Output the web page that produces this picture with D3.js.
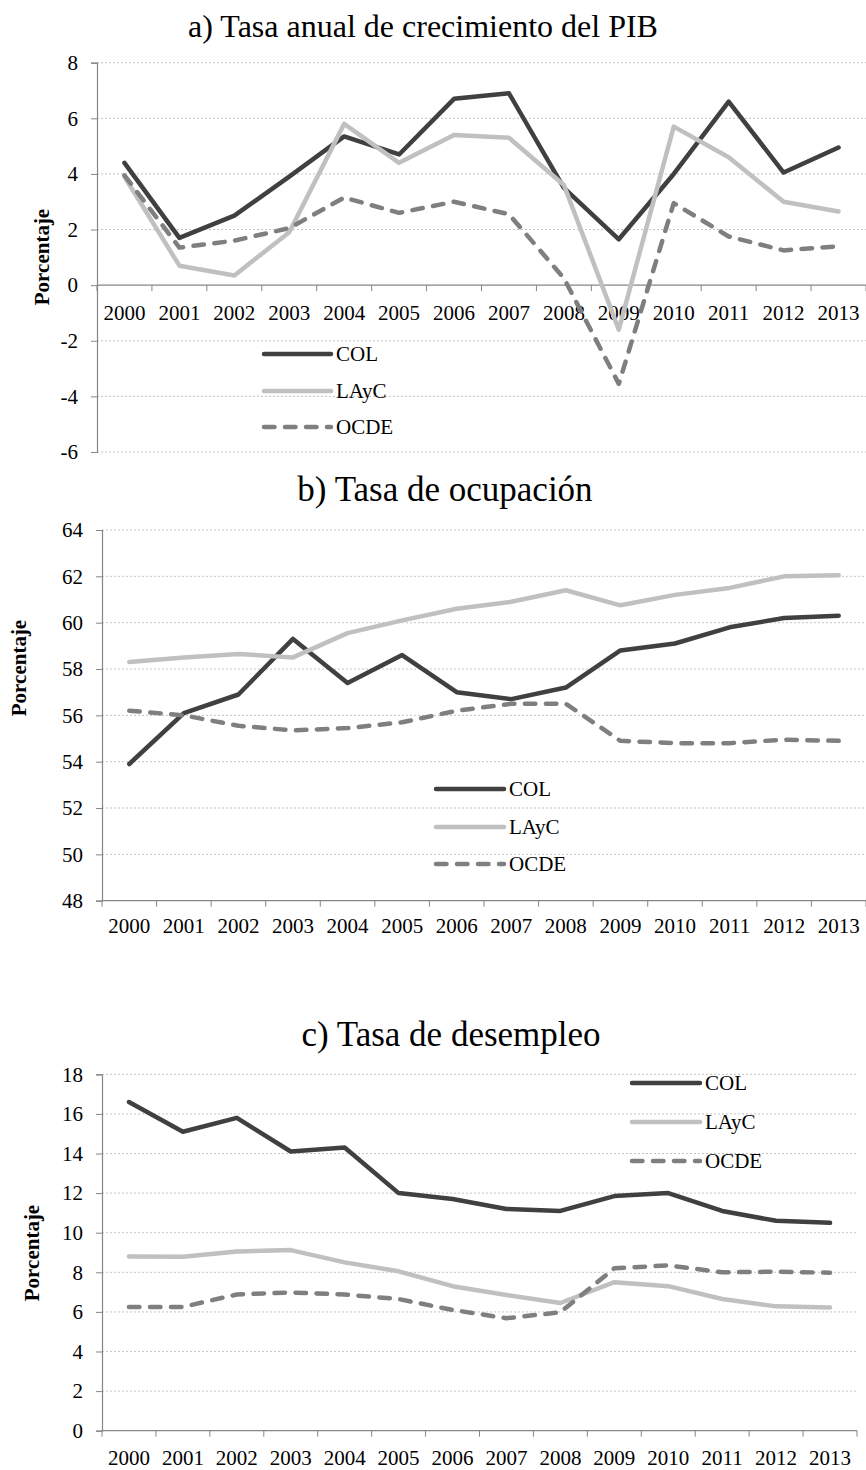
<!DOCTYPE html>
<html>
<head>
<meta charset="utf-8">
<script src="https://cdn.jsdelivr.net/npm/d3@7"></script>
<style>
  html, body { margin: 0; padding: 0; background: #fff; }
  svg { display: block; }
  text { font-family: "Liberation Serif", "Times New Roman", serif; fill: #000; }
</style>
</head>
<body>
<svg id="chart" width="866" height="1470"></svg>
<script>
// ---------- DATA ----------
const years = ["2000","2001","2002","2003","2004","2005","2006","2007","2008","2009","2010","2011","2012","2013"];
const seriesNames = ["COL", "LAyC", "OCDE"];

// a) Tasa anual de crecimiento del PIB
const pibCOL  = [4.4, 1.7, 2.5, 3.9, 5.35, 4.7, 6.7, 6.9, 3.5, 1.65, 4.0, 6.6, 4.05, 4.95];
const pibLAyC = [3.9, 0.7, 0.35, 1.9, 5.8, 4.4, 5.4, 5.3, 3.6, -1.6, 5.7, 4.6, 3.0, 2.65];
const pibOCDE = [3.95, 1.35, 1.6, 2.05, 3.15, 2.6, 3.0, 2.55, 0.25, -3.55, 2.95, 1.75, 1.25, 1.4];
const ticksA  = [-6, -4, -2, 0, 2, 4, 6, 8];

// b) Tasa de ocupación
const ocuCOL  = [53.9, 56.1, 56.9, 59.3, 57.4, 58.6, 57.0, 56.7, 57.2, 58.8, 59.1, 59.8, 60.2, 60.3];
const ocuLAyC = [58.3, 58.5, 58.65, 58.5, 59.55, 60.1, 60.6, 60.9, 61.4, 60.75, 61.2, 61.5, 62.0, 62.05];
const ocuOCDE = [56.2, 56.0, 55.55, 55.35, 55.45, 55.7, 56.2, 56.5, 56.5, 54.9, 54.8, 54.8, 54.95, 54.9];
const ticksB  = [48, 50, 52, 54, 56, 58, 60, 62, 64];

// c) Tasa de desempleo
const desCOL  = [16.6, 15.1, 15.8, 14.1, 14.3, 12.0, 11.7, 11.2, 11.1, 11.85, 12.0, 11.1, 10.6, 10.5];
const desLAyC = [8.8, 8.78, 9.05, 9.12, 8.5, 8.05, 7.3, 6.85, 6.45, 7.5, 7.3, 6.65, 6.28, 6.22];
const desOCDE = [6.25, 6.25, 6.88, 6.98, 6.88, 6.65, 6.1, 5.68, 5.98, 8.2, 8.35, 8.0, 8.03, 7.98];
const ticksC  = [0, 2, 4, 6, 8, 10, 12, 14, 16, 18];

const titles = ["a) Tasa anual de crecimiento del PIB", "b) Tasa de ocupación", "c) Tasa de desempleo"];
const yLabel = "Porcentaje";

// ---------- STYLES ----------
const colors = { COL: "#404040", LAyC: "#c0c0c0", OCDE: "#7f7f7f" };
const dashes = { COL: null, LAyC: null, OCDE: "10.5,10.5" };
const lineW = 4.5;
const axisColor = "#868686";
const gridColor = "#c4c4c4";

const svg = d3.select("#chart");

function drawPanel(cfg) {
  const g = svg.append("g");
  const x = d3.scaleBand().domain(years).range([cfg.left, cfg.right]).padding(0);
  const y = d3.scaleLinear().domain([d3.min(cfg.ticks), d3.max(cfg.ticks)]).range([cfg.bottom, cfg.top]);
  const cx = d => x(d) + x.bandwidth() / 2;

  // title
  g.append("text").attr("x", cfg.titleX).attr("y", cfg.titleY)
    .attr("text-anchor", "middle").style("font-size", cfg.titleSize + "px")
    .text(cfg.title);

  // gridlines
  g.selectAll(".grid").data(cfg.ticks.filter(t => t !== cfg.axisAt)).enter().append("line")
    .attr("x1", cfg.left).attr("x2", cfg.gridRight)
    .attr("y1", d => y(d)).attr("y2", d => y(d))
    .attr("stroke", gridColor).attr("stroke-width", 1).attr("stroke-dasharray", "2,2");

  // y axis
  const yAxis = d3.axisLeft(y).tickValues(cfg.ticks).tickSize(6).tickPadding(13).tickFormat(d => String(d));
  const ya = g.append("g").attr("transform", `translate(${cfg.left},0)`).call(yAxis);
  ya.select(".domain").attr("stroke", axisColor).attr("stroke-width", 1.2);
  ya.selectAll(".tick line").attr("stroke", axisColor).attr("stroke-width", 1);
  ya.selectAll(".tick text").style("font-size", "21px").style("font-family", "Liberation Serif").attr("fill", "#000");

  // x axis (at axisAt)
  const ax = y(cfg.axisAt);
  g.append("line").attr("x1", cfg.left).attr("x2", cfg.gridRight)
    .attr("y1", ax).attr("y2", ax).attr("stroke", axisColor).attr("stroke-width", 1.2);
  const edges = years.map(d => x(d)).concat([x(years[years.length - 1]) + x.bandwidth()]);
  g.selectAll(".xt").data(edges).enter().append("line")
    .attr("x1", d => d).attr("x2", d => d).attr("y1", ax).attr("y2", ax + 6)
    .attr("stroke", axisColor).attr("stroke-width", 1);
  g.selectAll(".xl").data(years).enter().append("text")
    .attr("x", d => cx(d)).attr("y", ax + cfg.labelOffset)
    .attr("text-anchor", "middle").style("font-size", "21px").text(d => d);

  // y label
  g.append("text").attr("transform", `translate(${cfg.ylabX},${cfg.ylabY}) rotate(-90)`)
    .attr("text-anchor", "middle").attr("dy", "0.35em")
    .style("font-size", "21px").style("font-weight", "bold").text(yLabel);

  // lines
  const line = d3.line().x((d, i) => cx(years[i])).y(d => y(d));
  cfg.series.forEach((vals, k) => {
    const name = seriesNames[k];
    g.append("path").datum(vals).attr("d", line)
      .attr("fill", "none").attr("stroke", colors[name]).attr("stroke-width", lineW)
      .attr("stroke-linejoin", "round").attr("stroke-linecap", "round")
      .attr("stroke-dasharray", dashes[name]);
  });

  // legend
  seriesNames.forEach((name, k) => {
    const ly = cfg.legY[k];
    g.append("line").attr("x1", cfg.legX1).attr("x2", cfg.legX2).attr("y1", ly).attr("y2", ly)
      .attr("stroke", colors[name]).attr("stroke-width", lineW).attr("stroke-linecap", "round")
      .attr("stroke-dasharray", dashes[name]);
    g.append("text").attr("x", cfg.legX2 + 5).attr("y", ly).attr("dy", "0.35em")
      .style("font-size", "21px").text(name);
  });
}

drawPanel({
  title: titles[0], titleX: 423, titleY: 37, titleSize: 32,
  left: 97, right: 866, gridRight: 866, top: 62.7, bottom: 452, ticks: ticksA, axisAt: 0,
  labelOffset: 35, ylabX: 42, ylabY: 257,
  series: [pibCOL, pibLAyC, pibOCDE],
  legX1: 264, legX2: 331, legY: [354, 391, 427]
});

drawPanel({
  title: titles[1], titleX: 445, titleY: 501, titleSize: 35,
  left: 102, right: 866, gridRight: 866, top: 530, bottom: 900.7, ticks: ticksB, axisAt: 48,
  labelOffset: 32, ylabX: 19, ylabY: 668,
  series: [ocuCOL, ocuLAyC, ocuOCDE],
  legX1: 436, legX2: 504, legY: [789, 827, 864]
});

drawPanel({
  title: titles[2], titleX: 451, titleY: 1046, titleSize: 35,
  left: 102, right: 857, gridRight: 857, top: 1074.3, bottom: 1430.7, ticks: ticksC, axisAt: 0,
  labelOffset: 34, ylabX: 32, ylabY: 1253,
  series: [desCOL, desLAyC, desOCDE],
  legX1: 632, legX2: 700, legY: [1083, 1122, 1161]
});
</script>
</body>
</html>
